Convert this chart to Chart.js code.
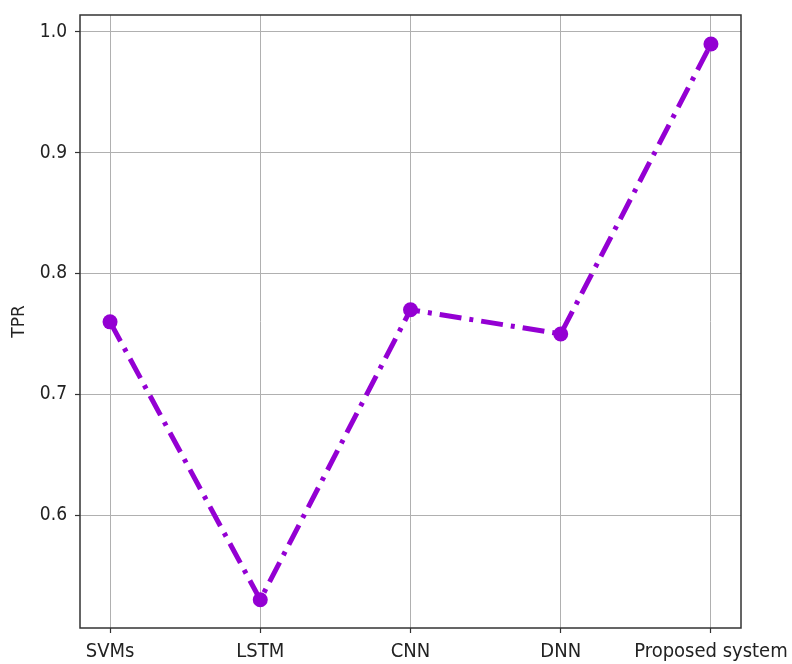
<!DOCTYPE html>
<html>
<head>
<meta charset="utf-8">
<script src="https://cdn.jsdelivr.net/npm/chart.js@4/dist/chart.umd.min.js"></script>
<style>
html,body{margin:0;padding:0;background:#fff;}
#wrap{width:792px;height:664px;position:relative;}
</style>
</head>
<body>
<div id="wrap"><canvas id="c" width="792" height="664"></canvas></div>
<script>
const categories = ["SVMs", "LSTM", "CNN", "DNN", "Proposed system"];
const tprValues = [0.76, 0.53, 0.77, 0.75, 0.99];
const yTicks = [0.6, 0.7, 0.8, 0.9, 1.0];
const yLabel = "TPR";

const points = tprValues.map((v, i) => ({x: i, y: v}));
const fontFam = "'DejaVu Sans Condensed', 'DejaVu Sans', sans-serif";

const frame = {
  id: 'frame',
  afterDraw(chart) {
    const {ctx, chartArea: a} = chart;
    ctx.save();
    ctx.strokeStyle = '#333';
    ctx.lineWidth = 1.5;
    ctx.strokeRect(a.left, a.top, a.right - a.left, a.bottom - a.top);
    ctx.restore();
  }
};

new Chart(document.getElementById('c'), {
  type: 'line',
  data: {
    datasets: [{
      data: points,
      borderColor: '#9400D3',
      backgroundColor: '#9400D3',
      borderWidth: 5,
      borderDash: [22, 8, 4, 8],
      borderCapStyle: 'butt',
      pointRadius: 7.5,
      pointHoverRadius: 7.5,
      pointBorderWidth: 0,
      pointBackgroundColor: '#9400D3',
      tension: 0,
      fill: false
    }]
  },
  options: {
    responsive: false,
    animation: false,
    layout: {padding: {top: 15, right: 51, left: 0, bottom: 0}},
    plugins: {legend: {display: false}, tooltip: {enabled: false}},
    scales: {
      x: {
        type: 'linear',
        min: -0.2, max: 4.2,
        afterBuildTicks(scale) { scale.ticks = categories.map((c, i) => ({value: i})); },
        ticks: {
          callback: (v) => categories[v] ?? '',
          color: '#222',
          font: {family: fontFam, size: 20},
          padding: 7,
          maxRotation: 0,
          autoSkip: false
        },
        grid: {color: '#b0b0b0', lineWidth: 1, tickLength: 5, tickColor: '#333', tickWidth: 1.2},
        border: {display: false},
        afterFit(scale) { scale.height = 36; scale.paddingLeft = 0; scale.paddingRight = 0; }
      },
      y: {
        min: 0.5066, max: 1.014,
        afterBuildTicks(scale) { scale.ticks = yTicks.map(v => ({value: v})); },
        ticks: {
          callback: (v) => Number(v).toFixed(1),
          color: '#222',
          font: {family: fontFam, size: 19},
          padding: 8
        },
        grid: {color: '#b0b0b0', lineWidth: 1, tickLength: 5, tickColor: '#333', tickWidth: 1.2},
        border: {display: false},
        title: {display: true, text: yLabel, color: '#222', font: {family: "'DejaVu Sans', sans-serif", size: 17}, padding: {top: 9, bottom: 4}},
        afterFit(scale) { scale.width = 80; scale.paddingTop = 0; scale.paddingBottom = 0; }
      }
    }
  },
  plugins: [frame]
});
</script>
</body>
</html>
